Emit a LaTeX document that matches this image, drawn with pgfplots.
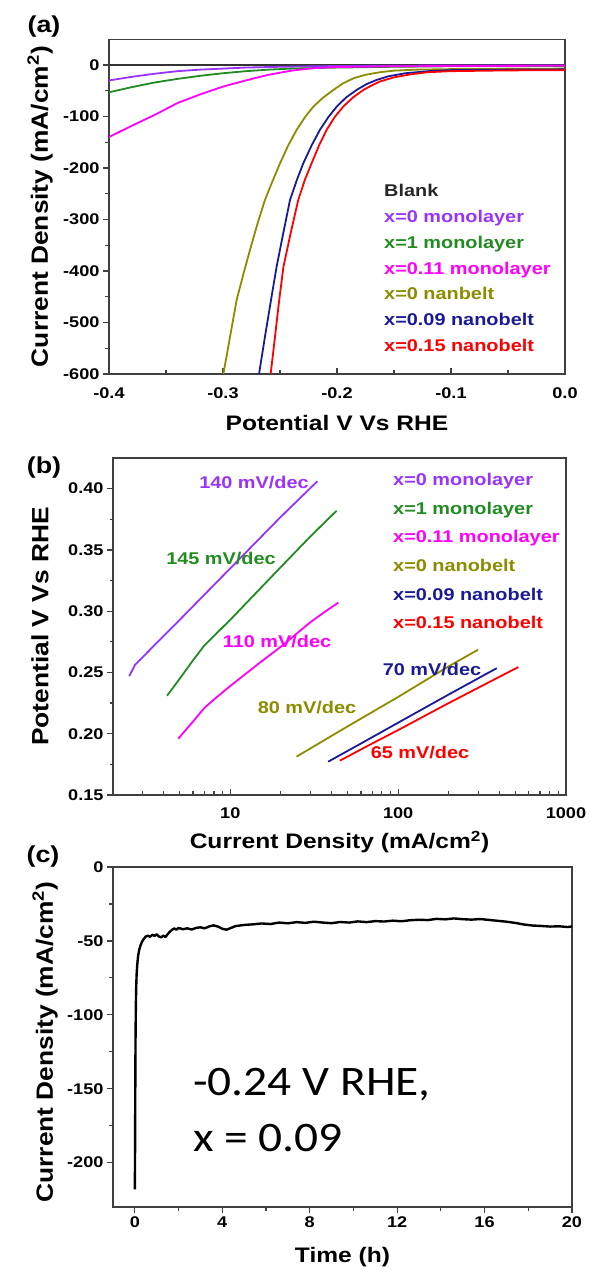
\documentclass[border=0pt]{standalone}
\usepackage{fontspec}
\setmainfont{Liberation Sans}
\newfontfamily\wfont{Liberation Sans}[FakeStretch=1.17]
\newfontfamily\tallfont{Liberation Sans}[FakeStretch=1.12]
\newfontfamily\calib{Carlito}[FakeStretch=1.13]
\usepackage{pgfplots}
\pgfplotsset{compat=1.18}

\definecolor{cPurple}{HTML}{9933FF}
\definecolor{cGreen}{HTML}{228B22}
\definecolor{cMagenta}{HTML}{FF00FF}
\definecolor{cOlive}{HTML}{8C8C00}
\definecolor{cNavy}{HTML}{1A1A99}
\definecolor{cRed}{HTML}{FF0000}
\definecolor{cFrame}{HTML}{404040}

\newcommand{\lblfont}{\wfont\bfseries\fontsize{17}{18}\selectfont}
\newcommand{\panelfont}{\wfont\bfseries\fontsize{23}{24}\selectfont}

\pgfplotsset{
  panel/.style={
    scale only axis, anchor=south west,
    axis line style={cFrame, line width=1.4pt},
    tick pos=left, tick align=outside,
    major tick length=6pt, minor tick length=3.5pt,
    tick style={cFrame, line width=1.2pt},
    ticklabel style={font=\wfont\bfseries\fontsize{15.5}{16}\selectfont},
    xlabel style={font=\wfont\bfseries\fontsize{21}{24}\selectfont, anchor=center},
    ylabel style={font=\tallfont\bfseries\fontsize{23.5}{26}\selectfont, anchor=center},
  },
  curve/.style={line width=1.8pt, no marks},
}

\begin{document}
\begin{tikzpicture}[x=1pt,y=1pt]
\useasboundingbox (0,0) rectangle (590,1270);

% ---------------- (a) polarization curves ----------------
\begin{axis}[panel, at={(109pt,896pt)}, width=456pt, height=334.75pt,
  xtick align=inside, xticklabel style={yshift=-10pt},
  xmin=-0.4, xmax=0, ymin=-600, ymax=50,
  xtick={-0.4,-0.3,-0.2,-0.1,0}, xticklabels={-0.4,-0.3,-0.2,-0.1,0.0},
  ytick={-600,-500,-400,-300,-200,-100,0},
  yticklabels={-600,-500,-400,-300,-200,-100,0},
  minor x tick num=1, minor y tick num=1,
  xlabel={Potential V Vs RHE},
  ylabel={Current Density (mA/cm\textsuperscript{2})},
  xlabel style={at={(axis description cs:0.5,-0.1473)}},
  ylabel style={at={(axis description cs:-0.1513,0.5)}},
]
% Blank
\addplot[curve, black!80, line width=2pt] coordinates {(-0.4,0) (0,0)};
% x=0 monolayer
\addplot[curve, cPurple] coordinates {
(-0.4,-30) (-0.38,-23) (-0.36,-17) (-0.34,-12) (-0.32,-9) (-0.30,-7)
(-0.28,-5) (-0.25,-3.5) (-0.2,-2) (-0.1,-1) (0,-1)};
% x=1 monolayer
\addplot[curve, cGreen] coordinates {
(-0.4,-53) (-0.38,-43) (-0.36,-34) (-0.34,-27) (-0.32,-21) (-0.30,-16)
(-0.28,-12) (-0.26,-9) (-0.24,-7) (-0.2,-5) (-0.15,-3.5) (-0.1,-2.5) (0,-2)};
% x=0.11 monolayer
\addplot[curve, cMagenta] coordinates {
(-0.4,-140) (-0.38,-118) (-0.36,-97) (-0.34,-74) (-0.32,-57) (-0.30,-42)
(-0.28,-30) (-0.26,-19) (-0.24,-11) (-0.22,-6) (-0.20,-4) (-0.15,-2.5)
(-0.1,-2) (0,-1.5)};
% x=0 nanobelt
\addplot[curve, cOlive] coordinates {
(-0.2997,-600) (-0.294,-530) (-0.288,-456) (-0.282,-405) (-0.2763,-359)
(-0.27,-310) (-0.2632,-262) (-0.257,-228) (-0.250,-191) (-0.243,-157)
(-0.2354,-126) (-0.228,-101) (-0.2208,-81) (-0.212,-63) (-0.2032,-48.5)
(-0.195,-36) (-0.1857,-26) (-0.175,-19) (-0.1623,-14) (-0.15,-11)
(-0.13,-9) (-0.1,-8) (-0.05,-7.5) (0,-7)};
% x=0.09 nanobelt
\addplot[curve, cNavy] coordinates {
(-0.2684,-600) (-0.263,-525) (-0.258,-458) (-0.253,-392) (-0.247,-325)
(-0.2412,-262) (-0.235,-222) (-0.2296,-191) (-0.222,-155) (-0.215,-126)
(-0.2075,-101) (-0.2003,-81) (-0.192,-63) (-0.1828,-48.5) (-0.174,-37)
(-0.1652,-29) (-0.155,-22) (-0.14,-16) (-0.12,-12) (-0.1,-10)
(-0.05,-9) (0,-8.5)};
% x=0.15 nanobelt
\addplot[curve, cRed] coordinates {
(-0.2582,-600) (-0.2545,-530) (-0.251,-462) (-0.247,-392) (-0.2405,-325)
(-0.234,-262) (-0.228,-222) (-0.2223,-191) (-0.2155,-155) (-0.2091,-126)
(-0.202,-101) (-0.1946,-81) (-0.186,-63) (-0.1769,-48.5) (-0.169,-39)
(-0.1623,-32) (-0.15,-24) (-0.135,-18) (-0.12,-14) (-0.1,-12)
(-0.05,-10.5) (0,-10)};
\end{axis}

% legend of (a)
\begin{scope}[every node/.style={anchor=base west, inner sep=0pt, font=\lblfont}]
\node[text=black!85] at (384,1073) {Blank};
\node[text=cPurple] at (384,1047.3) {x=0 monolayer};
\node[text=cGreen] at (384,1021.6) {x=1 monolayer};
\node[text=cMagenta] at (384,995.9) {x=0.11 monolayer};
\node[text=cOlive] at (384,970.2) {x=0 nanbelt};
\node[text=cNavy] at (384,944.5) {x=0.09 nanobelt};
\node[text=cRed] at (384,918.8) {x=0.15 nanobelt};
\end{scope}
\node[font=\panelfont] at (44,1243) {(a)};

% ---------------- (b) Tafel plots ----------------
\begin{axis}[panel, at={(113pt,475pt)}, width=453pt, height=337pt,
  xtick align=inside, xticklabel style={yshift=-9pt},
  xmode=log, xmin=2, xmax=1000, ymin=0.15, ymax=0.425,
  xtick={10,100,1000}, xticklabels={10,100,1000},
  minor xtick={2,3,4,5,6,7,8,9,20,30,40,50,60,70,80,90,200,300,400,500,600,700,800,900},
  ytick={0.15,0.20,0.25,0.30,0.35,0.40},
  yticklabels={0.15,0.20,0.25,0.30,0.35,0.40},
  minor y tick num=1,
  xlabel={Current Density (mA/cm\textsuperscript{2})},
  ylabel={Potential V Vs RHE},
  xlabel style={at={(axis description cs:0.5,-0.14)}},
  ylabel style={at={(axis description cs:-0.1611,0.5)}},
]
\addplot[curve, cPurple] coordinates {
(2.5,0.247) (2.7,0.256) (3.32,0.2685) (5,0.293) (10,0.335) (20,0.377) (33,0.406)};
\addplot[curve, cGreen] coordinates {
(4.2,0.231) (5,0.245) (6,0.26) (7,0.272) (10,0.293) (20,0.336) (30,0.361) (43,0.382)};
\addplot[curve, cMagenta] coordinates {
(4.9,0.196) (6,0.21) (7,0.221) (8,0.228) (10,0.239) (15,0.258) (20,0.271)
(30,0.291) (36.6,0.2995) (44,0.307)};
\addplot[curve, cOlive] coordinates {
(24.8,0.1813) (50,0.206) (100,0.23) (200,0.255) (298.7,0.2685)};
\addplot[curve, cNavy] coordinates {
(38.3,0.1772) (60,0.192) (100,0.209) (200,0.232) (387,0.2535)};
\addplot[curve, cRed] coordinates {
(44.9,0.178) (70,0.192) (100,0.203) (200,0.225) (300,0.2375) (461,0.2507) (520,0.2544)};
\end{axis}

% legend and slopes of (b)
\begin{scope}[every node/.style={anchor=base west, inner sep=0pt, font=\lblfont}]
\node[text=cPurple] at (393,784.5) {x=0 monolayer};
\node[text=cGreen] at (393,755.8) {x=1 monolayer};
\node[text=cMagenta] at (393,727.1) {x=0.11 monolayer};
\node[text=cOlive] at (393,698.4) {x=0 nanobelt};
\node[text=cNavy] at (393,669.7) {x=0.09 nanobelt};
\node[text=cRed] at (393,641) {x=0.15 nanobelt};
\end{scope}
\begin{scope}[every node/.style={anchor=center, inner sep=0pt, font=\lblfont}]
\node[text=cPurple] at (254,787) {140 mV/dec};
\node[text=cGreen] at (221,711) {145 mV/dec};
\node[text=cMagenta] at (277,628) {110 mV/dec};
\node[text=cOlive] at (307,562) {80 mV/dec};
\node[text=cNavy] at (432,600) {70 mV/dec};
\node[text=cRed] at (420,517) {65 mV/dec};
\end{scope}
\node[font=\panelfont] at (44,802) {(b)};

% ---------------- (c) stability at constant potential ----------------
\begin{axis}[panel, at={(113pt,63pt)}, width=459pt, height=340pt,
  xmin=-1, xmax=20, ymin=-230, ymax=0,
  xtick={0,4,8,12,16,20}, xticklabels={0,4,8,12,16,20},
  ytick={-200,-150,-100,-50,0}, yticklabels={-200,-150,-100,-50,0},
  minor x tick num=1, minor y tick num=1,
  xlabel={Time (h)},
  ylabel={Current Density (mA/cm\textsuperscript{2})},
  xlabel style={at={(axis description cs:0.5,-0.146)}},
  ylabel style={at={(axis description cs:-0.1481,0.485)}},
]
\addplot[black, line width=2.4pt, no marks, line join=round] coordinates {
(0,-218) (0.01,-190) (0.02,-150) (0.03,-118) (0.045,-95) (0.06,-82)
(0.08,-73) (0.11,-66) (0.15,-60) (0.2,-56) (0.26,-53) (0.33,-50.5)
(0.42,-48.5) (0.5,-47) (0.6,-46.5) (0.7,-47.2) (0.8,-45.8) (0.9,-46.6)
(1.0,-45.5) (1.1,-47) (1.2,-47.6) (1.3,-46.5) (1.4,-47.3) (1.5,-45.5)
(1.6,-43.8) (1.7,-42.5) (1.8,-41.6) (1.9,-42.4) (2.0,-41.2) (2.2,-42.1)
(2.4,-41.5) (2.6,-42.3) (2.8,-41.2) (3.0,-40.8) (3.2,-41.5) (3.4,-40.2)
(3.6,-39.5) (3.8,-40.3) (4.0,-41.8) (4.2,-42.4) (4.4,-41.2) (4.6,-40.0)
(4.8,-39.6) (5.0,-39.2) (5.4,-38.8) (5.8,-38.2) (6.2,-38.6) (6.6,-37.6)
(7.0,-38.1) (7.4,-37.3) (7.8,-37.8) (8.2,-37.0) (8.6,-37.6) (9.0,-38.0)
(9.4,-37.2) (9.8,-37.6) (10.2,-36.8) (10.6,-37.3) (11.0,-36.6) (11.4,-36.9)
(11.8,-36.3) (12.2,-36.7) (12.6,-36.0) (13.0,-35.7) (13.4,-35.9) (13.8,-35.1)
(14.2,-35.4) (14.6,-34.8) (15.0,-35.3) (15.4,-35.6) (15.8,-35.2) (16.2,-35.8)
(16.6,-36.4) (17.0,-37.0) (17.4,-37.8) (17.8,-38.9) (18.2,-39.6) (18.6,-39.9)
(19.0,-40.3) (19.4,-40.1) (19.8,-40.6) (20.0,-40.2)};
\end{axis}
\node[font=\panelfont] at (43,413) {(c)};
\begin{scope}[every node/.style={anchor=base west, inner sep=0pt, font=\calib\fontsize{42}{46}\selectfont}]
\node at (193,174) {-0.24 V RHE,};
\node at (193,118) {x = 0.09};
\end{scope}
\end{tikzpicture}
\end{document}
